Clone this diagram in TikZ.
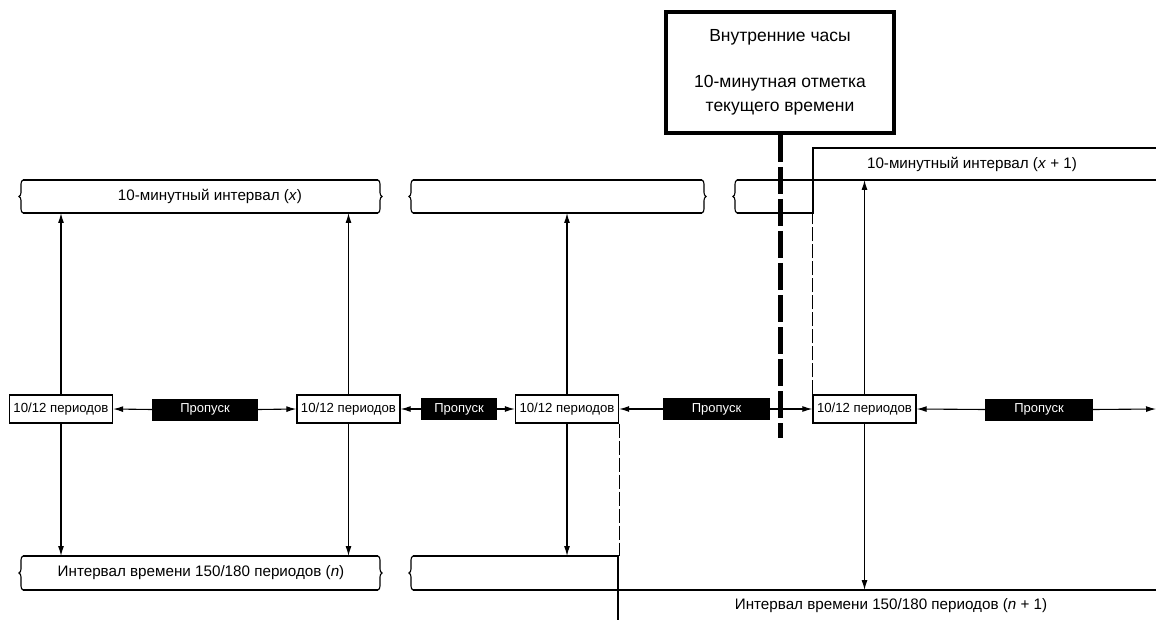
\documentclass[tikz,border=0pt]{standalone}
\usepackage{fontspec}
\setmainfont{Liberation Sans}
\usetikzlibrary{arrows.meta,decorations.pathreplacing}

\tikzset{
  periods/.style={draw, line width=1.4pt, minimum width=103pt, minimum height=28pt,
    inner sep=1pt, font=\fontsize{13.2}{15}\selectfont},
  gapbox/.style={fill=black, text=white, minimum height=22pt, inner sep=1pt,
    font=\fontsize{13}{15}\selectfont},
  arr/.style={line width=1.1pt, -{Latex[length=10pt,width=6pt]}},
  band/.style={line width=2.8pt},
  brk/.style={line width=1.1pt, decorate, decoration={brace, amplitude=4pt}},
  guide/.style={line width=0.9pt, dash pattern=on 14pt off 3pt},
  lbl/.style={font=\fontsize{15.2}{18}\selectfont},
}

\begin{document}
\begin{tikzpicture}[x=1pt,y=-1pt]
  \useasboundingbox (0,0) rectangle (1156,620);

  % clock
  \node[draw, line width=4pt, minimum width=228pt, minimum height=121pt, align=center,
    font=\fontsize{17.5}{24}\selectfont] (clock) at (780,72.5)
    {Внутренние часы\\[22pt]10-минутная отметка\\текущего времени};
  \draw[line width=5pt, dash pattern=on 27pt off 5pt] (clock.south) -- (780,438);

  % 10-minute intervals
  \coordinate (tenbot) at (0,213);
  \coordinate (tennext) at (0,180);
  \draw[band] (23,180) -- (378,180) (23,213) -- (378,213);
  \draw[brk] (23,213) -- (23,180);
  \draw[brk] (378,180) -- (378,213);
  \node[lbl] (tenx) at (210,196.5) {10-минутный интервал (\textit{x})};

  \draw[band] (413,180) -- (702,180) (413,213) -- (702,213);
  \draw[brk] (413,213) -- (413,180);
  \draw[brk] (702,180) -- (702,213);

  \draw[band] (737,180) -- (1156,180) (737,213) -- (813,213) -- (813,148) -- (1156,148);
  \draw[brk] (737,213) -- (737,180);
  \node[lbl] (tenx1) at (972,164) {10-минутный интервал (\textit{x} + 1)};

  % 150/180 intervals
  \coordinate (ntop) at (0,556);
  \coordinate (nnext) at (0,590);
  \draw[band] (23,556) -- (378,556) (23,590) -- (378,590);
  \draw[brk] (23,590) -- (23,556);
  \draw[brk] (378,556) -- (378,590);
  \node[lbl] (intn) at (201,573) {Интервал времени 150/180 периодов (\textit{n})};

  \draw[band] (413,556) -- (618,556) -- (618,620) (413,590) -- (1156,590);
  \draw[brk] (413,590) -- (413,556);
  \node[lbl] (intn1) at (891,606) {Интервал времени 150/180 периодов (\textit{n} + 1)};

  % periods and skips
  \node[periods] (p1) at (61,409) {10/12 периодов};
  \node[periods] (p2) at (348.5,409) {10/12 периодов};
  \node[periods] (p3) at (567,409) {10/12 периодов};
  \node[periods] (p4) at (864.5,409) {10/12 периодов};

  \node[gapbox, minimum width=106pt] (g1) at (205,409.5) {Пропуск};
  \node[gapbox, minimum width=76pt] (g2) at (459,409) {Пропуск};
  \node[gapbox, minimum width=107pt] (g3) at (716.5,409) {Пропуск};
  \node[gapbox, minimum width=108pt] (g4) at (1039,409.5) {Пропуск};
  \coordinate (rim) at (1156,409);

  \draw[arr] (g1.west) -- (p1.east);
  \draw[arr] (g1.east) -- (p2.west);
  \draw[arr] (g2.west) -- (p2.east);
  \draw[arr] (g2.east) -- (p3.west);
  \draw[arr] (g3.west) -- (p3.east);
  \draw[arr] (g3.east) -- (p4.west);
  \draw[arr] (g4.west) -- (p4.east);
  \draw[arr] (g4.east) -- (rim);

  % vertical links
  \draw[arr] (p1.north) -- (p1.north |- tenbot);
  \draw[arr] (p2.north) -- (p2.north |- tenbot);
  \draw[arr] (p3.north) -- (p3.north |- tenbot);
  \draw[arr] (p4.north) -- (p4.north |- tennext);
  \draw[arr] (p1.south) -- (p1.south |- ntop);
  \draw[arr] (p2.south) -- (p2.south |- ntop);
  \draw[arr] (p3.south) -- (p3.south |- ntop);
  \draw[arr] (p4.south) -- (p4.south |- nnext);

  \draw[guide] (p4.north west) -- (p4.north west |- tenbot);
  \draw[guide] (p3.south east) -- (p3.south east |- ntop);
\end{tikzpicture}
\end{document}
